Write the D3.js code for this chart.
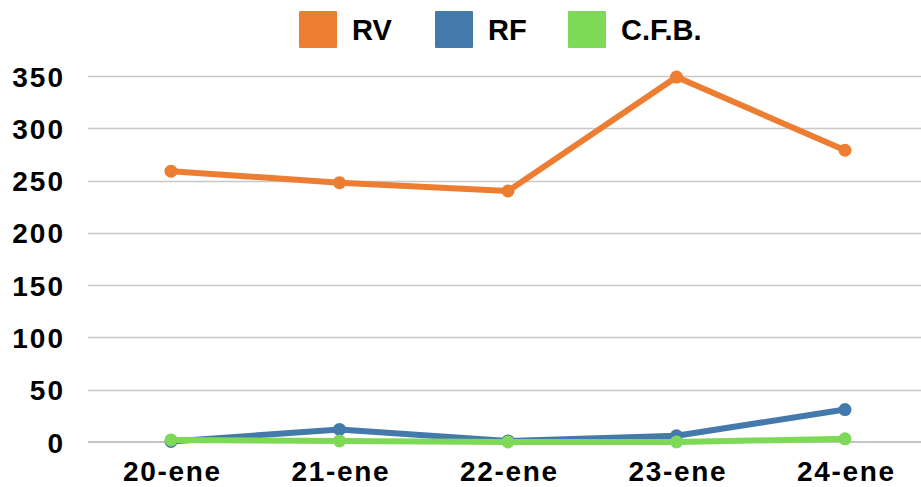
<!DOCTYPE html>
<html>
<head>
<meta charset="utf-8">
<script src="https://cdn.jsdelivr.net/npm/d3@7"></script>
<style>
  body { margin: 0; background: #fff; }
  text { font-family: "Liberation Sans", Arial, sans-serif; font-weight: bold; fill: #000; }
</style>
</head>
<body>
<div id="chart"></div>
<script>
// Data
const days = ["20-ene", "21-ene", "22-ene", "23-ene", "24-ene"];
const rv = [259, 248, 240, 349, 279];
const rf = [0.5, 12, 1, 6, 31];
const cfb = [2, 1, 0, 0, 3];
const yTicks = [0, 50, 100, 150, 200, 250, 300, 350];

const series = [
    { name: "RV", values: rv, color: "#ED7D31" },
    { name: "RF", values: rf, color: "#4479AB" },
    { name: "C.F.B.", values: cfb, color: "#7ED957" }
];

const width = 921;
const height = 487;

const svg = d3.select("#chart")
    .append("svg")
    .attr("width", width)
    .attr("height", height);

// Scales
const x = d3.scalePoint()
    .domain(days)
    .range([171, 845]);

const y = d3.scaleLinear()
    .domain([0, 350])
    .range([442, 76]);

// Gridlines
svg.append("g")
    .selectAll("line")
    .data(yTicks.filter(d => d > 0))
    .join("line")
    .attr("x1", 88)
    .attr("x2", width)
    .attr("y1", d => Math.round(y(d)) + 0.5)
    .attr("y2", d => Math.round(y(d)) + 0.5)
    .attr("stroke", "#c8c8c8")
    .attr("stroke-width", 1.5);

// Zero line
svg.append("line")
    .attr("x1", 88)
    .attr("x2", width)
    .attr("y1", y(0))
    .attr("y2", y(0))
    .attr("stroke", "#8a8a8a")
    .attr("stroke-width", 1.2);

// Y axis labels
const yAxis = svg.append("g")
    .attr("transform", "translate(65,0)")
    .call(d3.axisLeft(y).tickValues(yTicks).tickSize(0).tickPadding(0));
yAxis.select(".domain").remove();
yAxis.selectAll("text")
    .attr("font-size", 28)
    .attr("font-family", "Liberation Sans, Arial, sans-serif")
    .attr("font-weight", "bold")
    .attr("letter-spacing", 2)
    .attr("dy", "0.36em")
    .attr("fill", "#000");

// X axis labels
const xAxis = svg.append("g")
    .attr("transform", `translate(0,${y(0)})`)
    .call(d3.axisBottom(x).tickSize(0).tickPadding(0));
xAxis.select(".domain").remove();
xAxis.selectAll("text")
    .attr("font-size", 28)
    .attr("font-family", "Liberation Sans, Arial, sans-serif")
    .attr("font-weight", "bold")
    .attr("y", 39)
    .attr("dy", 0)
    .attr("textLength", 97)
    .attr("lengthAdjust", "spacing")
    .attr("fill", "#000");

// Lines and points
const line = d3.line()
    .x((d, i) => x(days[i]))
    .y(d => y(d));

series.forEach(s => {
    const g = svg.append("g");
    g.append("path")
        .datum(s.values)
        .attr("d", line)
        .attr("fill", "none")
        .attr("stroke", s.color)
        .attr("stroke-width", 6)
        .attr("stroke-linejoin", "round");
    g.selectAll("circle")
        .data(s.values)
        .join("circle")
        .attr("cx", (d, i) => x(days[i]))
        .attr("cy", d => y(d))
        .attr("r", 6.5)
        .attr("fill", s.color);
});

// Legend
const legendX = [299, 435, 568];
const legend = svg.append("g")
    .selectAll("g")
    .data(series)
    .join("g")
    .attr("transform", (d, i) => `translate(${legendX[i]},11)`);
legend.append("rect")
    .attr("width", 38)
    .attr("height", 37)
    .attr("rx", 1)
    .attr("fill", d => d.color);
legend.append("text")
    .attr("x", 53)
    .attr("y", 29)
    .attr("font-size", 29)
    .text(d => d.name);
</script>
</body>
</html>
